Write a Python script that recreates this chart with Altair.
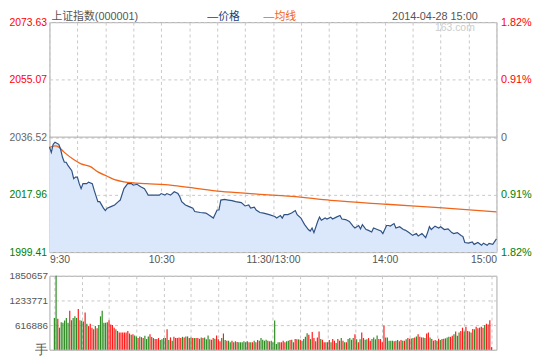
import altair as alt
import pandas as pd

FONT = "Liberation Sans, Noto Sans CJK SC"
RED, GREEN, GRAY = "#ff0000", "#008000", "#666666"
BAR_RED, BAR_GREEN = "#ff1a1a", "#2e8b22"
BLUE, ORANGE = "#2f5183", "#f0651a"

TITLE = "上证指数(000001)"
LEG_PRICE = "—价格"
LEG_AVG = "—均线"
DATE = "2014-04-28 15:00"
MARK = "163.com"

PREV_CLOSE = 2036.52
price_ticks = [1999.41, 2017.96, 2036.52, 2055.07, 2073.63]
pct_labels = ["1.82%", "0.91%", "0", "0.91%", "1.82%"]
vol_ticks = [0, 616886, 1233771, 1850657]
time_ticks = [0, 60, 120, 180, 240]
time_labels = ["9:30", "10:30", "11:30/13:00", "14:00", "15:00"]
grid_minutes = [0, 15, 30, 45, 60, 75, 90, 105, 120, 135, 150, 165, 180, 195, 210, 225, 240]

price_min = [0, 1, 2, 3, 5, 6, 7, 8, 9, 10, 12, 13, 14, 15, 16, 17, 18, 20, 21, 23, 24, 26, 27, 29, 30,
             31, 33, 35, 37, 38, 40, 42, 44, 45, 47, 49, 51, 52, 53, 56, 59, 60, 62, 63, 65, 67, 69, 70,
             71, 73, 75, 77, 78, 81, 84, 86, 88, 90, 91, 92, 94, 96, 98, 100, 103, 105, 107, 108, 110,
             111, 113, 115, 118, 121, 122, 124, 125, 126, 128, 130, 132, 133, 135, 137, 139, 140, 141,
             142, 144, 145, 146, 148, 149, 151, 152, 154, 156, 157, 159, 161, 163, 164, 166, 167, 168,
             170, 171, 173, 174, 176, 178, 179, 181, 182, 183, 185, 186, 188, 190, 191, 193, 195, 197,
             198, 200, 202, 203, 204, 205, 207, 209, 210, 212, 214, 216, 217, 219, 221, 222, 223, 225,
             227, 228, 230, 232, 233, 235, 236, 238, 240]
price_val = [2033.3, 2031.6, 2034.2, 2034.9, 2034.2, 2032.6, 2030.0, 2028.4, 2028.4, 2027.3, 2025.7,
             2023.1, 2023.6, 2023.6, 2021.5, 2019.9, 2021.5, 2021.5, 2022.0, 2021.5, 2019.4, 2015.7,
             2015.7, 2013.6, 2012.8, 2013.6, 2014.1, 2014.6, 2015.7, 2016.2, 2019.9, 2021.5, 2021.5,
             2021.0, 2021.3, 2020.5, 2019.9, 2018.9, 2017.8, 2017.8, 2017.8, 2018.3, 2017.8, 2018.3,
             2017.8, 2018.9, 2018.3, 2017.3, 2015.7, 2014.6, 2014.1, 2013.6, 2012.5, 2012.2, 2012.0,
             2011.2, 2010.4, 2013.0, 2013.0, 2016.2, 2016.4, 2016.2, 2016.0, 2015.7, 2015.4, 2014.3,
             2014.6, 2013.6, 2013.9, 2013.0, 2012.2, 2012.0, 2011.5, 2010.9, 2010.4, 2011.2, 2010.4,
             2011.5, 2011.5, 2012.0, 2012.8, 2011.5, 2010.4, 2008.3, 2006.7, 2006.2, 2007.2, 2005.7,
             2009.3, 2010.7, 2009.7, 2010.4, 2010.1, 2010.7, 2010.1, 2010.7, 2011.2, 2010.1, 2009.9,
             2009.3, 2007.8, 2007.2, 2008.0, 2006.9, 2008.3, 2006.7, 2006.5, 2005.9, 2007.2, 2006.7,
             2006.2, 2005.4, 2008.0, 2008.0, 2007.8, 2008.6, 2007.2, 2007.6, 2006.7, 2006.5, 2005.7,
             2004.8, 2005.4, 2004.6, 2005.4, 2004.1, 2005.7, 2007.6, 2006.7, 2007.8, 2007.2, 2007.6,
             2006.7, 2006.9, 2005.7, 2005.4, 2005.7, 2004.8, 2004.4, 2002.5, 2002.3, 2002.7, 2001.9,
             2002.5, 2001.6, 2002.3, 2001.6, 2002.2, 2001.9, 2003.7]

avg_min = [0, 3, 5, 8, 13, 17, 22, 26, 31, 35, 40, 52, 62, 75, 92, 110, 122, 128, 151, 181, 211, 240]
avg_val = [2033.2, 2033.7, 2033.3, 2031.6, 2029.3, 2027.9, 2027.0, 2025.3, 2023.9, 2022.8, 2022.1,
           2021.5, 2021.2, 2020.3, 2019.0, 2018.2, 2017.7, 2017.5, 2016.1, 2014.85, 2013.7, 2012.4]

vol = [797000, 1850657, 773000, 553000, 690000, 675000, 731000, 797000, 675000, 975000,
       739000, 797000, 836000, 797000, 1017000, 739000, 724000, 707000, 934000, 651000,
       592000, 651000, 553000, 512000, 592000, 536000, 617000, 836000, 975000, 675000,
       675000, 690000, 739000, 634000, 617000, 553000, 512000, 471000, 432000, 432000,
       432000, 432000, 432000, 471000, 407000, 373000, 390000, 358000, 334000, 293000,
       334000, 317000, 293000, 349000, 268000, 334000, 390000, 317000, 293000, 268000,
       268000, 293000, 244000, 261000, 293000,
       293000, 512000, 244000, 310000, 227000, 324000, 293000, 293000, 310000, 293000,
       324000, 310000, 334000, 334000, 293000, 310000, 293000, 293000, 293000, 293000,
       275000, 310000, 293000, 310000, 261000, 358000, 261000, 251000, 293000, 275000,
       358000, 261000, 212000, 293000, 407000, 244000, 227000, 227000, 188000, 227000,
       188000, 212000, 195000, 188000, 188000, 188000, 212000, 188000, 212000, 188000,
       188000, 188000, 227000, 188000, 244000, 227000, 293000, 251000, 227000, 251000,
       227000, 212000, 227000, 188000,
       731000, 146000, 188000, 188000, 188000, 227000, 188000, 212000, 227000, 244000,
       251000, 188000, 268000, 261000, 261000, 251000, 227000, 268000, 324000, 414000,
       373000, 268000, 446000, 293000, 212000, 310000, 456000, 268000, 251000, 188000,
       188000, 188000, 244000, 188000, 268000, 227000, 171000, 268000, 227000, 293000,
       227000, 188000, 188000, 268000, 293000, 251000, 293000, 390000, 261000, 188000,
       261000, 432000, 293000, 251000, 261000, 293000, 227000, 268000, 310000, 261000,
       358000, 268000, 268000, 188000, 610000,
       310000, 310000, 227000, 227000, 227000, 212000, 227000, 244000, 212000, 244000,
       227000, 227000, 261000, 293000, 275000, 285000, 293000, 310000, 334000, 390000,
       324000, 310000, 310000, 293000, 407000, 432000, 310000, 268000, 227000, 244000,
       227000, 275000, 244000, 268000, 275000, 285000, 310000, 324000, 324000, 349000,
       390000, 456000, 349000, 432000, 471000, 553000, 456000, 578000, 471000, 456000,
       432000, 519000, 512000, 578000, 536000, 553000, 578000, 553000, 617000, 651000,
       634000, 739000, 66000]
vol_dir = list(
    "ggrggggggr" "gggg" "rgggrg" "rrrrgrgggg" "ggrrrrgrrr" "rrrrrgrggr" "ggrgggrgrr" "rrggg"
    "grgrgrrrrr" "grggrgrgrr" "ggrgggrgrg" "rrrgrgrggr" "ggrggggggr" "grgrgrgggg" "rggg"
    "gggrrrrggr" "ggrrgrgggg" "rgrrgrrgrr" "grrgrrgrrg" "rgrggggrgr" "grrggrrggg" "grrrr"
    "gggggrggrr" "grgrgrgrgr" "rgrgrrgrgr" "grgrgrggrr" "grggrrgrrr" "grgrrgrrgr" "rrr"
)

N = len(vol)
vol_t = [i * 240 / (N - 1) for i in range(N)]

W, H_MAIN, H_VOL = 453, 233, 75

x_scale = alt.Scale(domain=[0, 240], nice=False, zero=False)
y_scale = alt.Scale(domain=[price_ticks[0], price_ticks[-1]], nice=False, zero=False)
v_scale = alt.Scale(domain=[0, vol_ticks[-1]], nice=False, zero=True)

x_label_expr = " : ".join(f"datum.value == {v} ? '{l}'" for v, l in zip(time_ticks, time_labels)) + " : ''"
pct_expr = " : ".join(f"abs(datum.value - {v}) < 0.01 ? '{l}'" for v, l in zip(price_ticks, pct_labels)) + " : ''"

label_color = {
    "condition": [
        {"test": f"datum.value > {PREV_CLOSE + 0.05}", "value": RED},
        {"test": f"datum.value > {PREV_CLOSE - 0.05}", "value": GRAY},
    ],
    "value": GREEN,
}

GRID = dict(grid=True, gridDash=[3, 3], gridColor="#c8c8c8", ticks=False, domain=False, title=None)

x_axis_main = alt.Axis(values=grid_minutes, labelExpr=x_label_expr, labelFlush=True, labelOverlap=False,
                       labelPadding=3, labelFontSize=10.5, labelColor="#555555", **GRID)
x_axis_vol = alt.Axis(values=grid_minutes, labels=False, **GRID)
left_axis = alt.Axis(values=price_ticks, format=".2f", labelPadding=3, labelFontSize=10.5,
                     labelColor=label_color, **GRID)
right_axis = alt.Axis(orient="right", values=price_ticks, labelExpr=pct_expr, grid=False, ticks=False,
                      domain=False, labelPadding=4, labelFontSize=11, labelColor=label_color, title=None)
vol_axis = alt.Axis(values=vol_ticks, format="d", labelExpr="datum.value == 0 ? '手' : datum.label",
                    labelPadding=2, labelFontSize={"condition": {"test": "datum.value == 0", "value": 13}, "value": 10},
                    labelColor="#555555", **GRID)

df_price = pd.DataFrame({"m": price_min, "p": price_val})
df_avg = pd.DataFrame({"m": avg_min, "p": avg_val})
df_prev = pd.DataFrame({"p": [PREV_CLOSE]})
df_vol = pd.DataFrame({"t": vol_t, "v": vol, "d": vol_dir})

xm = alt.X("m:Q", scale=x_scale, axis=x_axis_main)

area = alt.Chart(df_price).mark_area(color="#dbe7fa", opacity=1).encode(
    x=xm, y=alt.Y("p:Q", scale=y_scale, axis=left_axis), y2=alt.datum(price_ticks[0]))
prev_rule = alt.Chart(df_prev).mark_rule(color="#aaaaaa", strokeWidth=1).encode(
    y=alt.Y("p:Q", scale=y_scale, axis=None))
avg_line = alt.Chart(df_avg).mark_line(color=ORANGE, strokeWidth=1.3, interpolate="monotone").encode(
    x=xm, y=alt.Y("p:Q", scale=y_scale, axis=None))
price_line = alt.Chart(df_price).mark_line(color=BLUE, strokeWidth=1.2).encode(
    x=xm, y=alt.Y("p:Q", scale=y_scale, axis=right_axis))


def label(txt, color, x, y, align="left", size=11):
    return alt.Chart(pd.DataFrame({"t": [txt]})).mark_text(
        align=align, baseline="middle", fontSize=size, color=color, font=FONT
    ).encode(text="t:N", x=alt.value(x), y=alt.value(y))


header = [
    label(TITLE, "#555555", 2, -5),
    label(LEG_PRICE, "#1f3e70", 160, -5),
    label(LEG_AVG, ORANGE, 217, -5),
    label(DATE, "#555555", 434, -5, align="right"),
    label(MARK, "#cccccc", 431, 6, align="right", size=10.5),
]

main = alt.layer(area, prev_rule, avg_line, price_line, *header).resolve_axis(y="independent").properties(
    width=W, height=H_MAIN)

vol_chart = alt.Chart(df_vol).mark_bar(size=1.2).encode(
    x=alt.X("t:Q", scale=x_scale, axis=x_axis_vol),
    y=alt.Y("v:Q", scale=v_scale, axis=vol_axis),
    color=alt.Color("d:N", scale=alt.Scale(domain=["r", "g"], range=[BAR_RED, BAR_GREEN]), legend=None),
).properties(width=W, height=H_VOL)

chart = alt.vconcat(main, vol_chart, spacing=24, bounds="flush", padding=0).configure_view(
    stroke="#a9a9a9", strokeWidth=1
).configure_axis(labelFont="Liberation Sans")

chart.save("out.html", embed_options={"renderer": "svg", "actions": False})
